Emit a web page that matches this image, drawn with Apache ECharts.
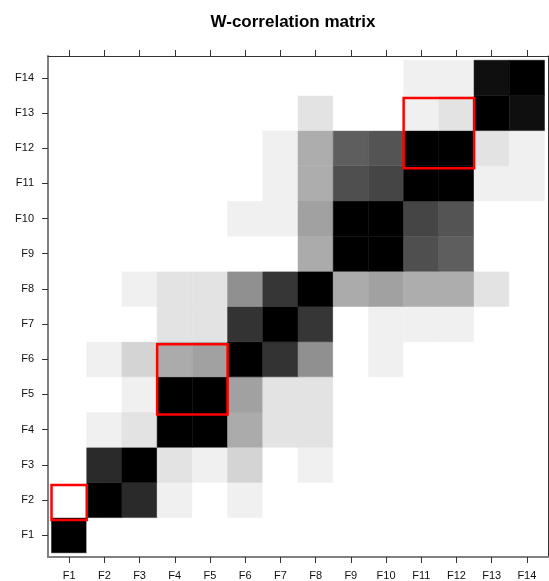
<!DOCTYPE html>
<html>
<head>
<meta charset="utf-8">
<script src="https://cdn.jsdelivr.net/npm/echarts@6/dist/echarts.min.js"></script>
<style>html,body{margin:0;padding:0;background:#fff}#c{width:549px;height:581px}</style>
</head>
<body>
<div id="c"></div>
<script>
// Component labels
const labels = ['F1','F2','F3','F4','F5','F6','F7','F8','F9','F10','F11','F12','F13','F14'];
// W-correlation values, rows F1..F14 (y), columns F1..F14 (x)
const rowF1  = [1,0,0,0,0,0,0,0,0,0,0,0,0,0];
const rowF2  = [0,1,0.835,0.06,0,0.06,0,0,0,0,0,0,0,0];
const rowF3  = [0,0.835,1,0.11,0.06,0.17,0,0.06,0,0,0,0,0,0];
const rowF4  = [0,0.06,0.11,1,1,0.33,0.11,0.11,0,0,0,0,0,0];
const rowF5  = [0,0,0.06,1,1,0.37,0.11,0.11,0,0,0,0,0,0];
const rowF6  = [0,0.06,0.17,0.33,0.37,1,0.8,0.435,0,0.06,0,0,0,0];
const rowF7  = [0,0,0,0.11,0.11,0.8,1,0.79,0,0.06,0.06,0.06,0,0];
const rowF8  = [0,0,0.06,0.11,0.11,0.435,0.79,1,0.33,0.37,0.32,0.32,0.11,0];
const rowF9  = [0,0,0,0,0,0,0,0.33,1,1,0.69,0.63,0,0];
const rowF10 = [0,0,0,0,0,0.06,0.06,0.37,1,1,0.73,0.67,0,0];
const rowF11 = [0,0,0,0,0,0,0.06,0.32,0.69,0.73,1,1,0.06,0.06];
const rowF12 = [0,0,0,0,0,0,0.06,0.32,0.63,0.67,1,1,0.11,0.06];
const rowF13 = [0,0,0,0,0,0,0,0.11,0,0,0.06,0.11,1,0.94];
const rowF14 = [0,0,0,0,0,0,0,0,0,0,0.06,0.06,0.94,1];
const rows = [rowF1,rowF2,rowF3,rowF4,rowF5,rowF6,rowF7,rowF8,rowF9,rowF10,rowF11,rowF12,rowF13,rowF14];
// Highlighted groups (start, end component numbers)
const groupStart = [1, 4, 11];
const groupEnd   = [1, 5, 12];

const cells = [];
rows.forEach((r, i) => r.forEach((v, j) => cells.push([j + 1, i + 1, v])));
const groupData = groupStart.map((s, k) => [s, groupEnd[k]]);
const positions = labels.map((_, i) => i + 1);
const n = labels.length;

const chart = echarts.init(document.getElementById('c'), null, {renderer: 'canvas'});
const font = 'Liberation Sans, Arial, sans-serif';
chart.setOption({
  animation: false,
  backgroundColor: '#ffffff',
  title: {
    text: 'W-correlation matrix',
    left: 288, textAlign: 'center', top: 9,
    textStyle: {fontSize: 17, fontWeight: 'bold', color: '#000', fontFamily: font}
  },
  grid: {left: 48, top: 56, width: 500, height: 501},
  xAxis: [
    {type: 'value', position: 'bottom', min: 0.4, max: n + 0.6,
     axisLine: {show: true, lineStyle: {color: '#808080', width: 2}},
     axisTick: {show: true, customValues: positions, length: 6, lineStyle: {color: '#333'}},
     axisLabel: {show: true, customValues: positions, margin: 13, fontSize: 11, color: '#111', fontFamily: font,
       formatter: v => labels[Math.round(v) - 1]},
     splitLine: {show: false}},
    {type: 'value', position: 'top', min: 0.4, max: n + 0.6,
     axisLine: {show: true, onZero: false, lineStyle: {color: '#333', width: 1}},
     axisTick: {show: true, customValues: positions, length: 6, lineStyle: {color: '#333'}},
     axisLabel: {show: false},
     splitLine: {show: false}}
  ],
  yAxis: [
    {type: 'value', position: 'left', min: 0.38, max: n + 0.62,
     axisLine: {show: true, onZero: false, lineStyle: {color: '#808080', width: 2}},
     axisTick: {show: true, customValues: positions, length: 6, lineStyle: {color: '#333'}},
     axisLabel: {show: true, customValues: positions, margin: 14, fontSize: 11, color: '#111', fontFamily: font,
       formatter: v => labels[Math.round(v) - 1]},
     splitLine: {show: false}},
    {type: 'value', position: 'right', min: 0.38, max: n + 0.62,
     axisLine: {show: true, onZero: false, lineStyle: {color: '#333', width: 1}},
     axisTick: {show: false}, axisLabel: {show: false}, splitLine: {show: false}}
  ],
  visualMap: {show: false, type: 'continuous', min: 0, max: 1, dimension: 2, seriesIndex: 0,
    inRange: {color: ['#ffffff', '#000000']}},
  series: [
    {type: 'custom', xAxisIndex: 0, yAxisIndex: 0, data: cells,
     encode: {x: 0, y: 1},
     renderItem: (params, api) => {
       const x = api.value(0), y = api.value(1);
       const p0 = api.coord([x - 0.5, y + 0.5]);
       const p1 = api.coord([x + 0.5, y - 0.5]);
       return {type: 'rect',
         shape: {x: p0[0], y: p0[1], width: p1[0] - p0[0], height: p1[1] - p0[1]},
         style: {fill: api.visual('color'), stroke: api.visual('color'), lineWidth: 0.5}};
     }},
    {type: 'custom', xAxisIndex: 0, yAxisIndex: 0, data: groupData, clip: false, z: 10,
     encode: {x: 0, y: 1},
     renderItem: (params, api) => {
       const s = api.value(0), e = api.value(1);
       const a = api.coord([s - 0.5, e + 1.5]);
       const b = api.coord([e + 0.5, s + 0.5]);
       return {type: 'rect',
         shape: {x: a[0], y: a[1] + 2.5, width: b[0] - a[0], height: b[1] - a[1]},
         style: {fill: null, stroke: '#ff0000', lineWidth: 2.5}};
     }}
  ]
});
</script>
</body>
</html>
